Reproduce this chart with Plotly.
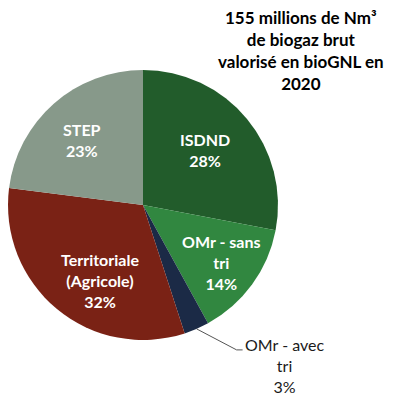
import math
import plotly.graph_objects as go

# ---- data ----
categories = ["ISDND", "OMr - sans tri", "OMr - avec tri", "Territoriale (Agricole)", "STEP"]
label_lines = [["ISDND"], ["OMr - sans", "tri"], ["OMr - avec", "tri"], ["Territoriale", "(Agricole)"], ["STEP"]]
values = [28, 14, 3, 32, 23]
title_lines = ["155 millions de Nm³", "de biogaz brut", "valorisé en bioGNL en", "2020"]

# ---- style ----
colors = ["#225c2b", "#318740", "#1b2a46", "#7a2215", "#87998a"]
OFF = 8  # default body margin of the html page
W, H = 397 - OFF, 407 - OFF
CX, CY, R = 143 - OFF, 205 - OFF, 135  # pie centre / radius in figure px
label_r = [0.61, 0.72, None, 0.64, 0.66]
label_dang = [-2, 0, 0, -10, -2]
FONT = "Lato"

dom_x = [max(0, (CX - R) / W), (CX + R) / W]
dom_y = [1 - (CY + R) / H, 1 - (CY - R) / H]

fig = go.Figure(go.Pie(
    labels=categories, values=values, sort=False, direction="clockwise", rotation=0,
    marker=dict(colors=colors, line=dict(width=0)),
    textinfo="none", hoverinfo="label+percent", showlegend=False,
    domain=dict(x=dom_x, y=dom_y),
))

def px2paper(x, y):
    return x / W, 1 - y / H

total = sum(values)
cum = 0
annotations = []
shapes = []
for i, v in enumerate(values):
    mid = (cum + v / 2) / total * 360
    cum += v
    pct = f"{round(v / total * 100)}%"
    text = "<br>".join(label_lines[i] + [pct])
    if label_r[i] is not None:
        a = math.radians(mid + label_dang[i])
        r = label_r[i] * R
        x, y = CX + r * math.sin(a), CY - r * math.cos(a)
        px, py = px2paper(x, y)
        annotations.append(dict(x=px, y=py, xref="paper", yref="paper", text=text, showarrow=False,
                                font=dict(family=FONT, size=16, color="white", weight="bold"),
                                xanchor="center", yanchor="middle", align="center"))
    else:
        a = math.radians(mid)
        x0, y0 = CX + R * math.sin(a), CY - R * math.cos(a)
        x1, y1 = x0 + 40, y0 + 21
        x2 = x1 + 6
        p0, p1, p2 = px2paper(x0, y0), px2paper(x1, y1), px2paper(x2, y1)
        shapes.append(dict(type="path", xref="paper", yref="paper",
                           path=f"M {p0[0]} {p0[1]} L {p1[0]} {p1[1]} L {p2[0]} {p2[1]}",
                           line=dict(color="#555555", width=1)))
        tx, ty = px2paper(x2 + 42, y1 + 16)
        annotations.append(dict(x=tx, y=ty, xref="paper", yref="paper", text=text, showarrow=False,
                                font=dict(family=FONT, size=16, color="#1a1a1a"),
                                xanchor="center", yanchor="middle", align="center"))

tx, ty = px2paper(301 - OFF, 50 - OFF)
annotations.append(dict(x=tx, y=ty, xref="paper", yref="paper", text="<br>".join(title_lines),
                        showarrow=False, font=dict(family=FONT, size=17, color="black", weight="bold"),
                        xanchor="center", yanchor="middle", align="center"))

fig.update_layout(width=W, height=H, margin=dict(l=0, r=0, t=0, b=0),
                  paper_bgcolor="white", plot_bgcolor="white",
                  annotations=annotations, shapes=shapes)
fig.write_html("out.html")
